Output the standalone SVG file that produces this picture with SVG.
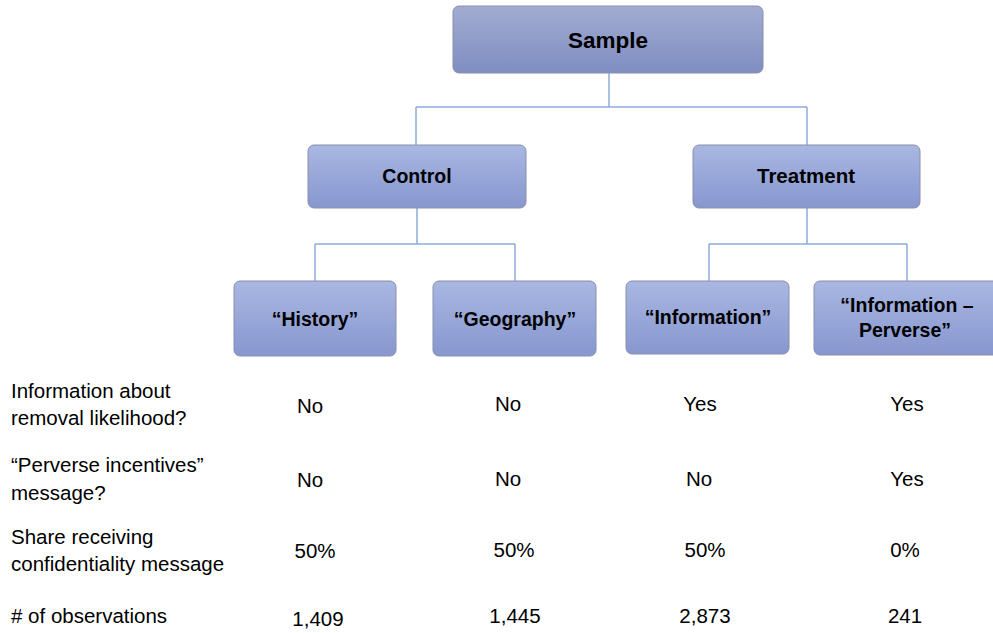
<svg xmlns="http://www.w3.org/2000/svg" width="993" height="633" viewBox="0 0 993 633">
<defs>
<linearGradient id="gS" x1="0" y1="0" x2="0" y2="1"><stop offset="0" stop-color="#a2acd2"/><stop offset="1" stop-color="#7f8dc1"/></linearGradient>
<linearGradient id="gN" x1="0" y1="0" x2="0" y2="1"><stop offset="0" stop-color="#a9b7e2"/><stop offset="1" stop-color="#8797cf"/></linearGradient>
<style>
.box{stroke:#8a90a8;stroke-width:1}
.s{fill:url(#gS)}
.n{fill:url(#gN)}
.h{font-family:"Liberation Sans",Arial,sans-serif;font-weight:bold;fill:#000;text-anchor:middle;font-size:19.5px}
.t{font-family:"Liberation Sans",Arial,sans-serif;font-size:20.5px;fill:#000}
.v{text-anchor:middle}
.c{fill:none;stroke:#8eaadb;stroke-width:1.5}
</style>
</defs>
<g id="connectors">
<path class="c" d="M609 73V107M416 107H807M416 107V145M807 107V145"/>
<path class="c" d="M417 208V244M315 244H515M315 244V281M515 244V281"/>
<path class="c" d="M807 208V244M709 244H907M709 244V281M907 244V281"/>
</g>
<g id="sample"><rect class="box s" x="453" y="6" width="310" height="67" rx="6"/><text class="h" x="608" y="48" style="font-size:22.5px">Sample</text></g>
<g id="control"><rect class="box n" x="308" y="145" width="218" height="63" rx="6"/><text class="h" x="417" y="183">Control</text></g>
<g id="treatment"><rect class="box n" x="693" y="145" width="227" height="63" rx="6"/><text class="h" x="806" y="183" style="font-size:20.5px">Treatment</text></g>
<g id="history"><rect class="box n" x="234" y="281" width="162" height="75" rx="6"/><text class="h" x="315" y="326">“History”</text></g>
<g id="geography"><rect class="box n" x="433" y="281" width="163" height="75" rx="6"/><text class="h" x="515" y="326">“Geography”</text></g>
<g id="information"><rect class="box n" x="626" y="281" width="163" height="73" rx="6"/><text class="h" x="708" y="324">“Information”</text></g>
<g id="info-perverse"><rect class="box n" x="814" y="281" width="185" height="74" rx="6"/><text class="h" x="907" y="312">“Information –</text><text class="h" x="905" y="337">Perverse”</text></g>
<g id="table">
<text class="t" x="11" y="398">Information about</text>
<text class="t" x="11" y="425">removal likelihood?</text>
<text class="t" x="11" y="472">“Perverse incentives”</text>
<text class="t" x="11" y="500">message?</text>
<text class="t" x="11" y="544">Share receiving</text>
<text class="t" x="11" y="571">confidentiality message</text>
<text class="t" x="11" y="623"># of observations</text>
<text class="t v" x="310" y="413">No</text>
<text class="t v" x="508" y="411">No</text>
<text class="t v" x="700" y="411">Yes</text>
<text class="t v" x="907" y="411">Yes</text>
<text class="t v" x="310" y="487">No</text>
<text class="t v" x="508" y="486">No</text>
<text class="t v" x="699" y="486">No</text>
<text class="t v" x="907" y="486">Yes</text>
<text class="t v" x="315" y="558">50%</text>
<text class="t v" x="514" y="557">50%</text>
<text class="t v" x="705" y="557">50%</text>
<text class="t v" x="905" y="557">0%</text>
<text class="t v" x="318" y="626">1,409</text>
<text class="t v" x="515" y="623">1,445</text>
<text class="t v" x="705" y="623">2,873</text>
<text class="t v" x="905" y="623">241</text>
</g>
</svg>
